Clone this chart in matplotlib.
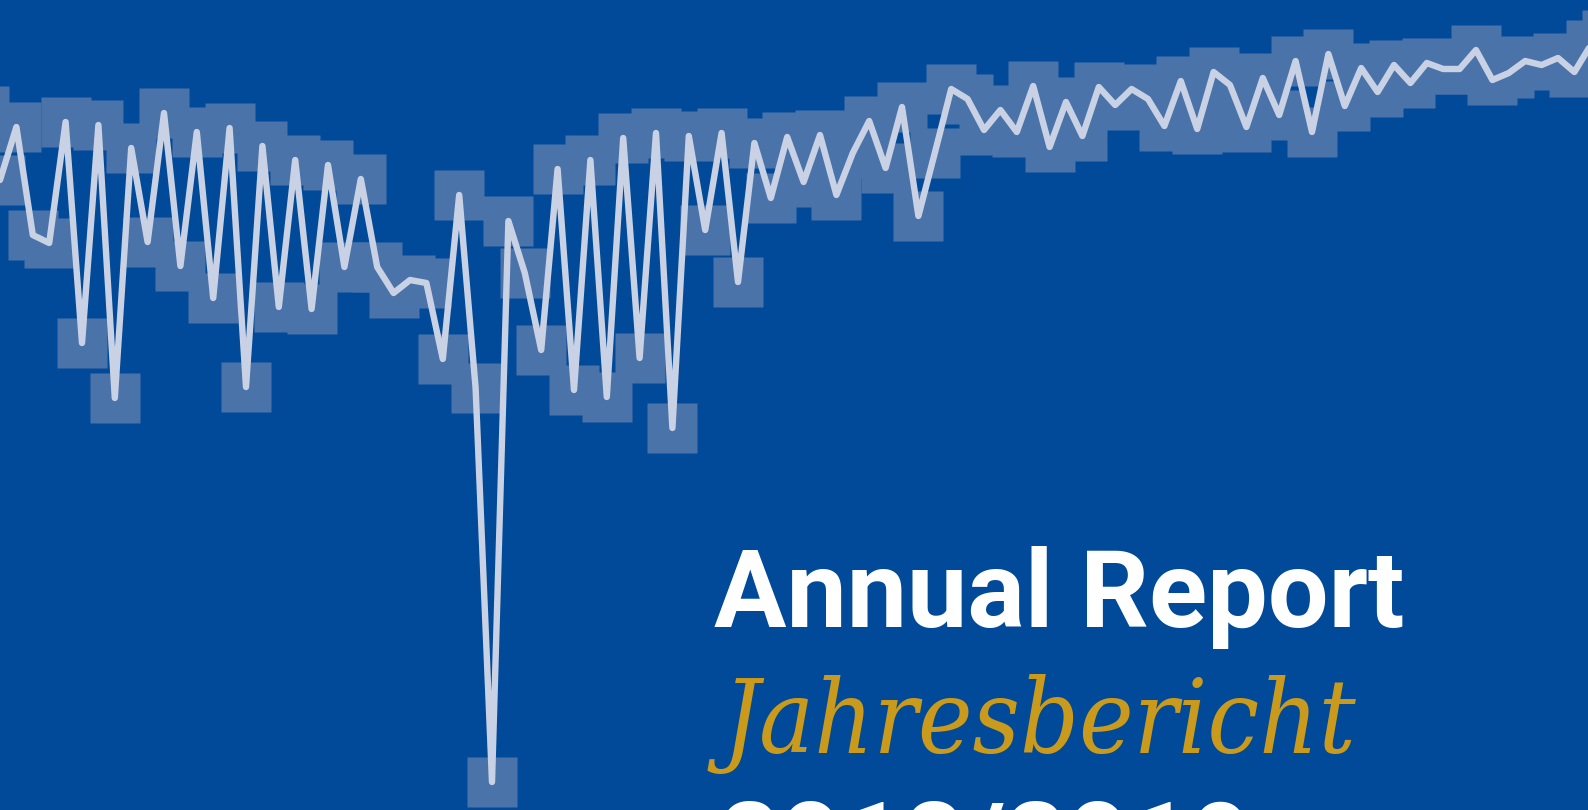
import matplotlib
matplotlib.use("Agg")
import matplotlib.pyplot as plt
import numpy as np

# ---- data -------------------------------------------------------------
period = list(range(-1, 99))  # sample index
values = [
    69.9, 63.0, 68.3, 57.5, 56.7, 68.8, 46.7, 68.5, 41.2, 66.2,
    56.8, 69.7, 54.4, 67.8, 51.2, 68.2, 42.3, 66.4, 50.3, 65.0,
    50.1, 64.5, 54.3, 63.1, 54.3, 51.7, 53.0, 52.7, 45.1, 61.5,
    42.2, 2.8, 58.9, 53.7, 46.0, 64.1, 42.0, 65.0, 41.3, 67.2,
    45.2, 67.7, 38.2, 67.4, 58.0, 67.7, 52.8, 66.7, 61.2, 67.3,
    62.8, 67.5, 61.5, 65.7, 68.9, 64.2, 70.3, 59.4, 65.7, 72.1,
    71.1, 68.0, 70.0, 67.8, 72.4, 66.3, 70.8, 67.4, 72.3, 70.5,
    72.1, 71.1, 68.4, 72.9, 68.1, 73.8, 72.5, 68.3, 73.2, 69.5,
    74.9, 67.8, 75.6, 70.4, 74.2, 71.8, 74.5, 72.7, 74.7, 74.1,
    74.1, 76.0, 73.0, 73.7, 74.9, 74.5, 75.2, 73.8, 76.5, 77.5,
]
title_lines = ["Annual Report", "Jahresbericht", "2018/2019"]

# ---- style ------------------------------------------------------------
BG = "#004a99"
SQUARE = "#4a73a9"
LINE = "#c9d1e4"
GOLD = "#c99a1c"

W, H, DPI = 1588, 810, 100
fig = plt.figure(figsize=(W / DPI, H / DPI), dpi=DPI, facecolor=BG)
ax = fig.add_axes([0, 0, 1, 1])
ax.set_facecolor(BG)
ax.set_axis_off()

ax.plot(period, values, linestyle="none", marker="s", markersize=36,
        markerfacecolor=SQUARE, markeredgecolor="none", zorder=1,
        clip_on=False)
ax.plot(period, values, color=LINE, linewidth=4.6,
        solid_joinstyle="round", solid_capstyle="round", zorder=2)

ax.set_xlim(0, W / 16.4)
ax.set_ylim(0, H / 10)

def fx(px):
    return px / W

def fy(py):
    return 1 - py / H

fig.text(fx(714), fy(627), title_lines[0], color="white",
         family=["Roboto", "DejaVu Sans"], weight="bold", fontsize=77.5,
         ha="left", va="baseline")
fig.text(fx(723), fy(753), title_lines[1], color=GOLD,
         family=["DejaVu Serif"], style="italic", stretch="condensed",
         fontsize=74, ha="left", va="baseline")
fig.text(fx(718), fy(879), title_lines[2], color="white",
         family=["Roboto", "DejaVu Sans"], weight="bold", fontsize=77.5,
         ha="left", va="baseline")

fig.savefig("out.png", dpi=DPI, facecolor=BG)
